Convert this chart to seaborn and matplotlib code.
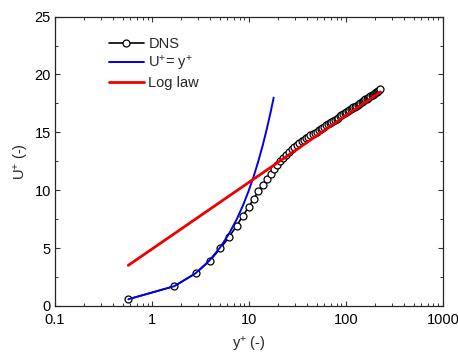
import numpy as np
import pandas as pd
import matplotlib
matplotlib.use("Agg")   # headless
import matplotlib.pyplot as plt
import matplotlib.ticker as mticker
import seaborn as sns

# ── Data ──────────────────────────────────────
dns_yplus = [0.57, 1.70, 2.82, 3.95, 5.09, 6.26, 7.46, 8.68, 9.93, 11.2,
             12.5, 13.9, 15.3, 16.7, 18.1, 19.6, 21.1, 22.7, 24.3, 25.9,
             27.6, 29.4, 31.2, 33.0, 34.9, 36.9, 38.9, 41.0, 43.1, 45.3,
             47.6, 49.9, 52.3, 54.8, 57.3, 59.9, 62.6, 65.3, 68.1, 71.0,
             74.0, 77.0, 80.1, 83.3, 86.6, 90.0, 93.4, 96.9, 100.5, 104.2,
             108.0, 111.8, 115.7, 119.7, 123.8, 128.0, 132.2, 136.5, 140.9, 145.4,
             149.9, 154.5, 159.2, 164.0, 168.8, 173.7, 178.7, 183.8, 188.9, 194.1,
             199.4, 204.7, 210.1, 215.6, 221.2, 226.8]
dns_uplus = [0.57, 1.70, 2.80, 3.90, 4.97, 5.97, 6.92, 7.79, 8.56, 9.26,
             9.89, 10.47, 10.98, 11.42, 11.80, 12.17, 12.50, 12.80, 13.06, 13.30,
             13.52, 13.73, 13.91, 14.07, 14.22, 14.35, 14.49, 14.61, 14.73, 14.85,
             14.96, 15.07, 15.18, 15.28, 15.39, 15.50, 15.60, 15.70, 15.80, 15.90,
             15.99, 16.09, 16.18, 16.28, 16.37, 16.46, 16.55, 16.64, 16.73, 16.82,
             16.90, 16.99, 17.07, 17.16, 17.23, 17.31, 17.39, 17.47, 17.55, 17.62,
             17.70, 17.77, 17.85, 17.92, 17.99, 18.06, 18.13, 18.20, 18.26, 18.32,
             18.39, 18.46, 18.51, 18.58, 18.64, 18.71]

visc_yplus = [0.57, 1.70, 2.82, 3.95, 5.09, 6.26, 7.46, 8.68, 9.93, 11.2,
              12.5, 13.9, 15.3, 16.7, 18.0]
visc_uplus = [0.57, 1.70, 2.82, 3.95, 5.09, 6.26, 7.46, 8.68, 9.93, 11.2,
              12.5, 13.9, 15.3, 16.7, 18.0]

log_yplus = [0.57, 227.0]
log_uplus = [3.5, 18.5]

x_ticks  = [0.1, 1, 10, 100, 1000]
x_labels = ["0.1", "1", "10", "100", "1000"]
y_ticks  = [0, 5, 10, 15, 20, 25]

# ── Style ─────────────────────────────────────
sns.set_theme(style="ticks")
plt.rcParams["font.family"] = ["Liberation Sans", "DejaVu Sans"]
plt.rcParams.update({
    "mathtext.fontset": "custom",
    "mathtext.rm": "Liberation Sans",
    "mathtext.it": "Liberation Sans",
    "mathtext.bf": "Liberation Sans",
    "axes.linewidth": 0.9,
    "xtick.direction": "in", "ytick.direction": "in",
    "xtick.top": True, "ytick.right": True,
    "xtick.major.size": 3.5, "ytick.major.size": 3.5,
    "xtick.minor.size": 2.0, "ytick.minor.size": 2.0,
    "xtick.major.width": 0.8, "ytick.major.width": 0.8,
    "xtick.minor.width": 0.7, "ytick.minor.width": 0.7,
    "xtick.color": "#333333", "ytick.color": "#333333",
    "xtick.labelcolor": "black", "ytick.labelcolor": "black",
})

df_dns  = pd.DataFrame({"y": dns_yplus,  "u": dns_uplus})
df_visc = pd.DataFrame({"y": visc_yplus, "u": visc_uplus})
df_log  = pd.DataFrame({"y": log_yplus,  "u": log_uplus})

fig = plt.figure(figsize=(4.58, 3.54), dpi=100)
ax  = fig.add_axes([0.120, 0.136, 0.847, 0.817])

sns.lineplot(data=df_dns, x="y", y="u", ax=ax, sort=False, color="black",
             lw=1.2, marker="o", markersize=5.0, markerfacecolor="white",
             markeredgecolor="black", markeredgewidth=0.9, label="DNS", zorder=2)
sns.lineplot(data=df_visc, x="y", y="u", ax=ax, sort=False, color="#0000ee",
             lw=1.4, label=r"U$^{+}$= y$^{+}$", zorder=3)
sns.lineplot(data=df_log, x="y", y="u", ax=ax, sort=False, color="#ee0000",
             lw=2.0, label="Log law", zorder=3)

ax.set_xscale("log")
ax.set_xlim(0.1, 1000)
ax.set_ylim(0, 25)
ax.set_xticks(x_ticks)
ax.set_xticklabels(x_labels)
ax.xaxis.set_minor_locator(mticker.LogLocator(base=10, subs=np.arange(2, 10)))
ax.xaxis.set_minor_formatter(mticker.NullFormatter())
ax.set_yticks(y_ticks)
ax.yaxis.set_minor_locator(mticker.MultipleLocator(2.5))
ax.tick_params(labelsize=10.5)
ax.tick_params(axis="x", pad=5)
ax.tick_params(axis="y", pad=3)

ax.set_xlabel(r"y$^{+}$ (-)", fontsize=10.5, labelpad=6)
ax.set_ylabel(r"U$^{+}$ (-)", fontsize=10.5, labelpad=2.5)

ax.legend(loc="upper left", bbox_to_anchor=(0.139, 0.93), frameon=False,
          fontsize=10.5, borderpad=0, borderaxespad=0, handlelength=2.4,
          handletextpad=0.3, labelspacing=0.2, numpoints=1)

plt.savefig("out.png", dpi=100)
plt.close()
